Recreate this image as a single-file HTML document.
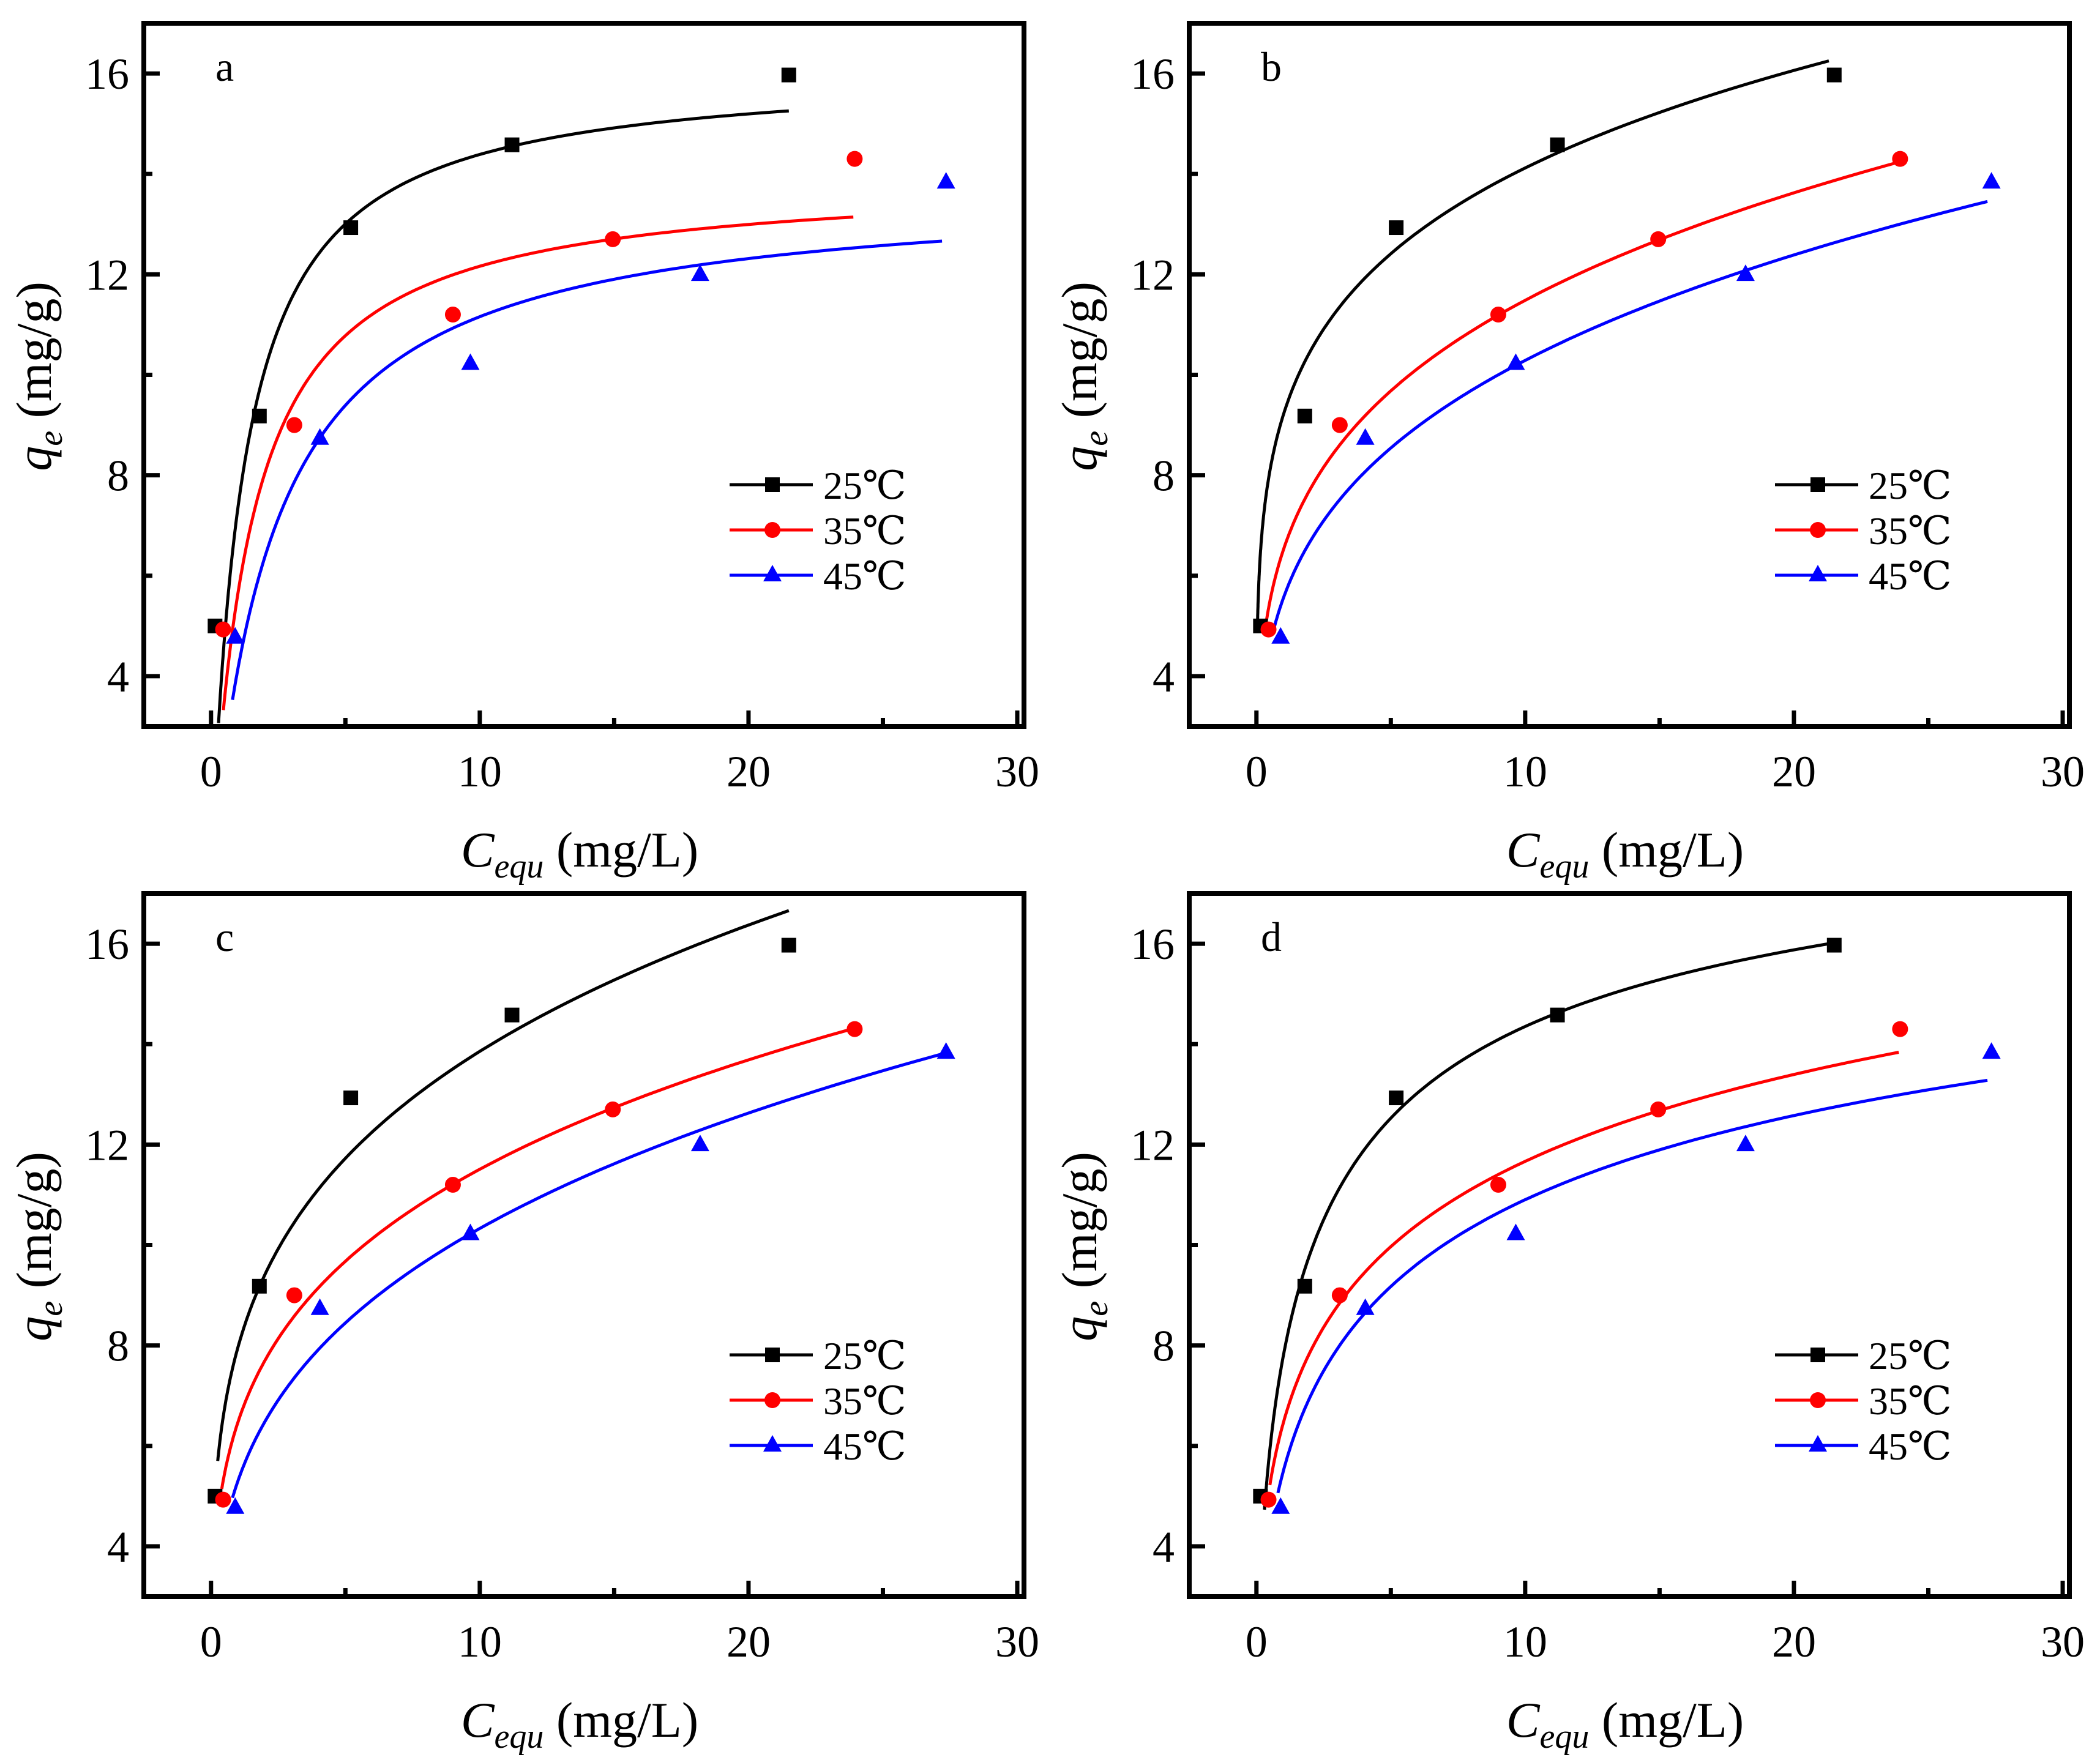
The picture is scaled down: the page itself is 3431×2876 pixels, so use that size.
<!DOCTYPE html>
<html><head><meta charset="utf-8"><style>
html,body{margin:0;padding:0;background:#fff;}
svg{display:block;font-family:"Liberation Serif","DejaVu Serif",serif;}
</style></head><body>
<svg id="fig" xmlns="http://www.w3.org/2000/svg" width="3431" height="2876" viewBox="0 0 3431 2876">
<rect width="3431" height="2876" fill="#fff"/>
</svg>
<script>
// ---- data ----
const seriesNames = ["25℃", "35℃", "45℃"];
const seriesColors = ["#000000", "#ff0000", "#0000ff"];
const xBlack = [0.15, 1.8, 5.2, 11.2, 21.5];
const yBlack = [5.0, 9.18, 12.93, 14.58, 15.97];
const xRed = [0.45, 3.1, 9.0, 14.95, 23.95];
const yRed = [4.93, 9.0, 11.2, 12.7, 14.3];
const xBlue = [0.9, 4.05, 9.65, 18.2, 27.35];
const yBlue = [4.77, 8.73, 10.22, 11.99, 13.83];
const panelLetters = ["a", "b", "c", "d"];
const panelModels = ["langmuir", "freundlich", "freundlich", "sips"];
// fit parameters per panel: [black, red, blue]
const fitParamsA = [[16.1, 0.84], [13.95, 0.68], [13.74, 0.432]];        // qm, K
const fitParamsB = [[9.2, 0.186], [6.51, 0.2465], [5.55, 0.268]];       // Kf, 1/n
const fitParamsC = [[7.96, 0.2407], [6.47, 0.2501], [5.30, 0.2898]];    // Kf, 1/n
const fitParamsD = [[20, 0.473, 0.6], [25, 0.0716, 0.4], [20, 0.1436, 0.5]]; // qm, K, n
const fitRangeA = [[0.28, 21.5], [0.46, 23.9], [0.8, 27.2]];
const fitRangeB = [[0.04, 21.3], [0.34, 23.9], [0.62, 27.2]];
const fitRangeC = [[0.25, 21.5], [0.4, 23.9], [0.8, 27.2]];
const fitRangeD = [[0.3, 21.3], [0.5, 23.9], [0.8, 27.2]];
const xTicks = [0, 10, 20, 30];
const yTicks = [4, 8, 12, 16];

const svg = document.getElementById('fig');
const NS = 'http://www.w3.org/2000/svg';
function mk(tag, attrs, parent){ const e=document.createElementNS(NS,tag); for(const k in attrs) e.setAttribute(k,attrs[k]); (parent||svg).appendChild(e); return e; }

const XMIN=-2.5, XMAX=30.25, YMIN=3, YMAX=17;
const PW=1438, PH=1149;
const origins=[[235,38],[1943,38],[235,1460],[1943,1460]];
const params=[fitParamsA,fitParamsB,fitParamsC,fitParamsD];
const ranges=[fitRangeA,fitRangeB,fitRangeC,fitRangeD];
const xs=[xBlack,xRed,xBlue], ys=[yBlack,yRed,yBlue];

function model(type,p,c){
  if(type==='langmuir') return p[0]*p[1]*c/(1+p[1]*c);
  if(type==='freundlich') return p[0]*Math.pow(c,p[1]);
  const x=Math.pow(p[1]*c,p[2]); return p[0]*x/(1+x);
}

function marker(g,kind,cx,cy,color,name){
  let m;
  if(kind===0) m=mk('rect',{x:cx-12,y:cy-12,width:24,height:24,fill:color},g);
  else if(kind===1) m=mk('circle',{cx:cx,cy:cy,r:13,fill:color},g);
  else m=mk('polygon',{points:`${cx},${cy-17} ${cx+15},${cy+10} ${cx-15},${cy+10}`,fill:color},g);
  
  
  return m;
}

for(let p=0;p<4;p++){
  const [L,T]=origins[p];
  const sx=v=>L+(v-XMIN)/(XMAX-XMIN)*PW;
  const sy=v=>T+PH-(v-YMIN)/(YMAX-YMIN)*PH;
  const g=mk('g',{});
  
  
  for(let s=0;s<3;s++){
    const [a,b]=ranges[p][s]; let d='';
    for(let i=0;i<=200;i++){
      const c=a*Math.pow(b/a,i/200);
      const q=model(panelModels[p],params[p][s],c);
      d+=(i?'L':'M')+sx(c).toFixed(1)+','+sy(Math.max(q,YMIN)).toFixed(1);
    }
    const path=mk('path',{d:d,fill:'none',stroke:seriesColors[s],'stroke-width':5},g);
    
    
  }
  for(let s=0;s<3;s++){
    for(let i=0;i<xs[s].length;i++){
      marker(g,s,sx(xs[s][i]),sy(ys[s][i]),seriesColors[s],'data-point-'+seriesNames[s].replace('℃','c'));
    }
  }
  const fr=mk('rect',{x:L,y:T,width:PW,height:PH,fill:'none',stroke:'#000','stroke-width':8},g);
  
  
  for(let v=0;v<=30;v+=5){
    const major=v%10===0;
    mk('line',{x1:sx(v),x2:sx(v),y1:T+PH,y2:T+PH-(major?26:14),stroke:'#000','stroke-width':7},g);
  }
  for(const v of xTicks){
    const t=mk('text',{x:sx(v),y:T+PH+98,'font-size':72,'text-anchor':'middle'},g);
    t.textContent=v;
    
    
  }
  for(let v=4;v<=16;v+=2){
    const major=v%4===0;
    mk('line',{x1:L,x2:L+(major?26:14),y1:sy(v),y2:sy(v),stroke:'#000','stroke-width':7},g);
  }
  for(const v of yTicks){
    const t=mk('text',{x:L-24,y:sy(v)+25,'font-size':72,'text-anchor':'end'},g);
    t.textContent=v;
    
    
  }
  const xt=mk('text',{x:L+712,y:T+PH+229,'font-size':82,'text-anchor':'middle'},g);
  xt.innerHTML='<tspan font-style="italic">C</tspan><tspan font-style="italic" font-size="56" dy="18">equ</tspan><tspan dy="-18"> (mg/L)</tspan>';
  
  
  const yt=mk('text',{x:0,y:0,'font-size':82,'text-anchor':'middle',transform:`translate(${L-152},${T+577}) rotate(-90)`},g);
  yt.innerHTML='<tspan font-style="italic">q</tspan><tspan font-style="italic" font-size="56" dy="18">e</tspan><tspan dy="-18"> (mg/g)</tspan>';
  
  
  const lt=mk('text',{x:L+117,y:T+94,'font-size':68},g);
  lt.textContent=panelLetters[p];
  
  
  for(let s=0;s<3;s++){
    const yy=T+754+s*74;
    const lg=mk('g',{},g);
    
    
    mk('line',{x1:L+957,x2:L+1093,y1:yy,y2:yy,stroke:seriesColors[s],'stroke-width':5},lg);
    marker(lg,s,L+1027,yy,seriesColors[s],'legend-marker');
    const tt=mk('text',{x:L+1110,y:yy+23,'font-size':64},lg);
    tt.textContent=seriesNames[s];
  }
}
</script>
</body></html>
